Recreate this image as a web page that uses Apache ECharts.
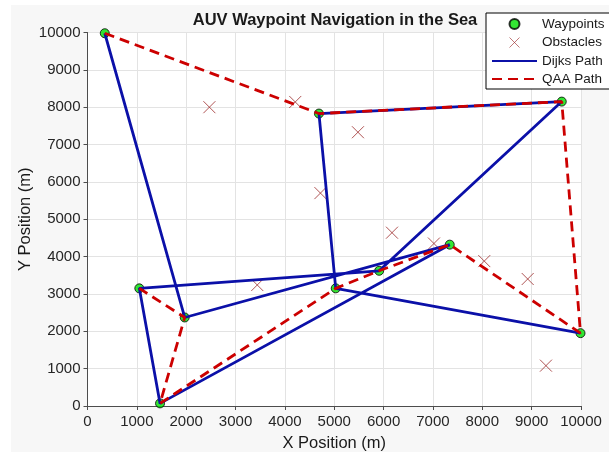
<!DOCTYPE html>
<html>
<head>
<meta charset="utf-8">
<script src="https://cdn.jsdelivr.net/npm/echarts@6/dist/echarts.min.js"></script>
<style>
    html, body { margin: 0; padding: 0; background: #fff; }
    #bgPanel { position: absolute; left: 11px; top: 5px; width: 598px; height: 447px; background: #f7f7f7; }
    #auvBox { position: absolute; left: 0; top: 0; width: 609px; height: 452px; }
</style>
</head>
<body>
<div id="bgPanel"></div>
<div id="auvBox"></div>
<script>
// waypoints (m)
var waypointX = [350, 4690, 9610, 9990, 7340, 5910, 5030, 1050, 1970, 1470];
var waypointY = [9980, 7830, 8150, 1950, 4320, 3620, 3150, 3150, 2370, 70];

// obstacles (m)
var obstacleX = [2470, 4210, 4720, 5480, 3440, 6170, 7020, 8040, 8920, 9290];
var obstacleY = [8000, 8140, 5700, 7330, 3240, 4640, 4350, 3880, 3400, 1080];

// visiting order of the waypoints for each planner
var dijksOrder = [0, 8, 4, 9, 7, 5, 2, 1, 6, 3];
var qaaOrder = [0, 1, 2, 3, 4, 5, 6, 9, 8, 7];

var axisTicks = [0, 1000, 2000, 3000, 4000, 5000, 6000, 7000, 8000, 9000, 10000];

function pairs(xs, ys) {
    var out = [];
    for (var i = 0; i < xs.length; i++) out.push([xs[i], ys[i]]);
    return out;
}

function pathFrom(order) {
    return order.map(function (k) { return [waypointX[k], waypointY[k]]; });
}

function loadAUV() {
    var font = '"Liberation Sans", Arial, Helvetica, sans-serif';
    var axisCommon = {
        type: 'value',
        min: axisTicks[0],
        max: axisTicks[axisTicks.length - 1],
        interval: axisTicks[1] - axisTicks[0],
        nameLocation: 'middle',
        nameMoveOverlap: false,
        nameTextStyle: { fontSize: 16.5, color: '#1a1a1a', fontFamily: font },
        axisLine: { show: true, lineStyle: { color: '#4d4d4d', width: 1 } },
        axisTick: { show: true, inside: false, length: 4, lineStyle: { color: '#4d4d4d' } },
        axisLabel: {
            fontSize: 15,
            color: '#262626',
            fontFamily: font,
            formatter: function (v) { return String(v); }
        },
        splitLine: { show: true, lineStyle: { color: '#e3e3e3', width: 1 } }
    };

    var option_auv = {
        animation: false,
        textStyle: { fontFamily: font },
        title: {
            text: 'AUV Waypoint Navigation in the Sea',
            left: 335,
            top: 12,
            padding: 0,
            textAlign: 'center',
            textStyle: { fontSize: 16.5, fontWeight: 'bold', color: '#1a1a1a', fontFamily: font }
        },
        legend: {
            orient: 'vertical',
            left: 486,
            top: 13,
            align: 'left',
            itemWidth: 45,
            itemHeight: 10,
            itemGap: 4,
            padding: [4, 5, 3, 5],
            backgroundColor: '#fff',
            borderColor: '#000',
            borderWidth: 1,
            borderRadius: 0,
            textStyle: { fontSize: 13.5, lineHeight: 14, color: '#1a1a1a', fontFamily: font },
            data: [
                'Waypoints',
                { name: 'Obstacles', itemStyle: { borderWidth: 0.8 } },
                { name: 'Dijks Path', itemStyle: { opacity: 0 } },
                { name: 'QAA Path', itemStyle: { opacity: 0 } }
            ]
        },
        grid: {
            left: 87.5,
            top: 32.5,
            right: 28,
            bottom: 46,
            outerBoundsMode: 'none',
            containLabel: false,
            show: true,
            backgroundColor: '#fff',
            borderWidth: 0
        },
        xAxis: Object.assign({}, axisCommon, {
            name: 'X Position (m)',
            nameGap: 29,
            axisLabel: Object.assign({}, axisCommon.axisLabel, { margin: 8 })
        }),
        yAxis: Object.assign({}, axisCommon, {
            name: 'Y Position (m)',
            nameGap: 54,
            axisLabel: Object.assign({}, axisCommon.axisLabel, { margin: 7 })
        }),
        series: [
            {
                name: 'Waypoints',
                type: 'scatter',
                data: pairs(waypointX, waypointY),
                symbol: 'circle',
                symbolSize: 9,
                itemStyle: { color: '#00e000', borderColor: '#000', borderWidth: 1 },
                z: 2
            },
            {
                name: 'Obstacles',
                type: 'scatter',
                data: pairs(obstacleX, obstacleY),
                symbol: 'path://M0,0L10,10M10,0L0,10',
                symbolSize: 12,
                itemStyle: { color: 'none', borderColor: '#9c2a2a', borderWidth: 1 },
                z: 3
            },
            {
                name: 'Dijks Path',
                type: 'line',
                data: pathFrom(dijksOrder),
                symbol: 'none',
                lineStyle: { color: '#0b10a8', width: 2.8 },
                itemStyle: { color: '#0b10a8' },
                z: 4
            },
            {
                name: 'QAA Path',
                type: 'line',
                data: pathFrom(qaaOrder),
                symbol: 'none',
                lineStyle: { color: '#cc0000', width: 2.8, type: [10, 6] },
                itemStyle: { color: '#cc0000' },
                z: 5
            }
        ]
    };

    var myChart_auv = echarts.init(document.getElementById('auvBox'));
    myChart_auv.setOption(option_auv);
}

loadAUV();
</script>
</body>
</html>
